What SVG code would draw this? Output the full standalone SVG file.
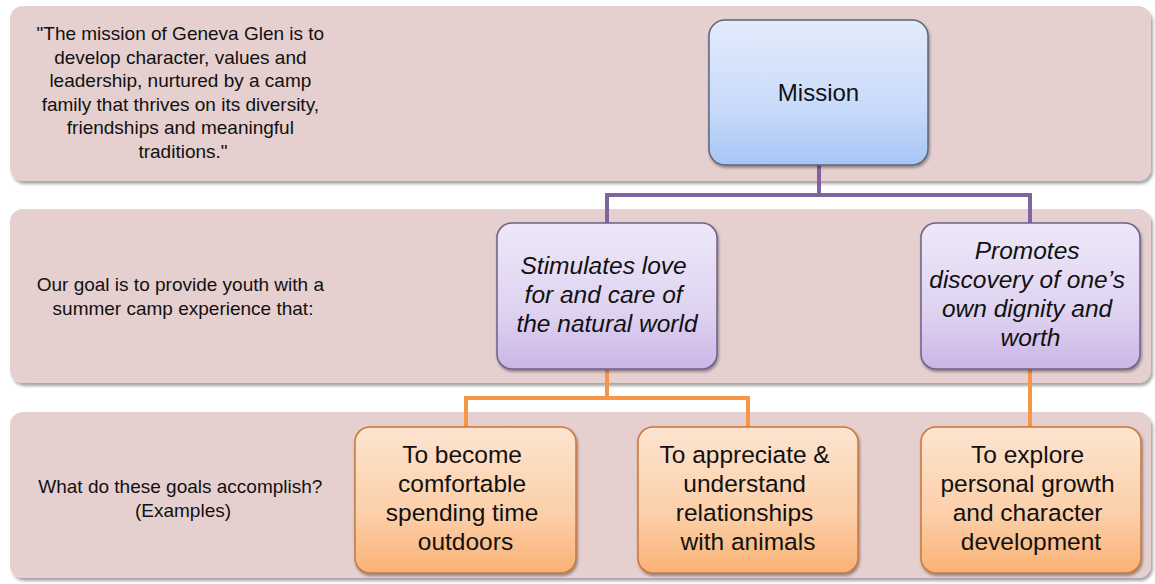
<svg xmlns="http://www.w3.org/2000/svg" width="1155" height="584" viewBox="0 0 1155 584">
  <defs>
    <filter id="bandShadow" x="-5%" y="-10%" width="110%" height="125%">
      <feDropShadow dx="2" dy="3" stdDeviation="1.6" flood-color="#000000" flood-opacity="0.35"/>
    </filter>
    <filter id="boxShadow" x="-10%" y="-10%" width="125%" height="125%">
      <feDropShadow dx="1" dy="2" stdDeviation="1.5" flood-color="#000000" flood-opacity="0.4"/>
    </filter>
    <linearGradient id="gBlue" x1="0" y1="0" x2="0" y2="1">
      <stop offset="0" stop-color="#E2EBFB"/>
      <stop offset="0.6" stop-color="#C9DBFA"/>
      <stop offset="1" stop-color="#A6C6F5"/>
    </linearGradient>
    <linearGradient id="gPurple" x1="0" y1="0" x2="0" y2="1">
      <stop offset="0" stop-color="#EEE8F8"/>
      <stop offset="0.6" stop-color="#DFD3F1"/>
      <stop offset="1" stop-color="#CBB6E6"/>
    </linearGradient>
    <linearGradient id="gOrange" x1="0" y1="0" x2="0" y2="1">
      <stop offset="0" stop-color="#FDE4D0"/>
      <stop offset="0.6" stop-color="#FCCFA8"/>
      <stop offset="1" stop-color="#F9B274"/>
    </linearGradient>
  </defs>
  <style>
    .band { fill: #E6CFCF; filter: url(#bandShadow); }
    .blue { fill: url(#gBlue); stroke: #56687F; stroke-width: 1.5; filter: url(#boxShadow); }
    .purple { fill: url(#gPurple); stroke: #6F5F8A; stroke-width: 1.5; filter: url(#boxShadow); }
    .orange { fill: url(#gOrange); stroke: #C9773A; stroke-width: 1.5; filter: url(#boxShadow); }
    .lbl { font-family: "Liberation Sans", Arial, sans-serif; font-size: 19px; fill: #111; text-anchor: middle; }
    .mission { font-family: "Liberation Sans", Arial, sans-serif; font-size: 24px; fill: #111; text-anchor: middle; }
    .ital { font-family: "Liberation Sans", Arial, sans-serif; font-size: 24.5px; font-style: italic; fill: #111; text-anchor: middle; }
    .ot { font-family: "Liberation Sans", Arial, sans-serif; font-size: 24.5px; fill: #111; text-anchor: middle; }
    .cp { fill: none; stroke: #8064A2; stroke-width: 4; }
    .co { fill: none; stroke: #F79646; stroke-width: 4; }
  </style>

  <g id="bands">
    <rect id="band-mission" class="band" x="10" y="6" width="1141" height="175" rx="13"/>
    <rect id="band-goals" class="band" x="10" y="209" width="1141" height="174" rx="13"/>
    <rect id="band-examples" class="band" x="10" y="412" width="1141" height="166" rx="13"/>
  </g>

  <g id="band-labels">
    <text class="lbl">
      <tspan x="183" y="40">"The mission of Geneva Glen is to</tspan>
      <tspan x="183" y="63.5">develop character, values and</tspan>
      <tspan x="183" y="87">leadership, nurtured by a camp</tspan>
      <tspan x="183" y="110.5">family that thrives on its diversity,</tspan>
      <tspan x="183" y="134">friendships and meaningful</tspan>
      <tspan x="183" y="157.5">traditions."</tspan>
    </text>
    <text class="lbl">
      <tspan x="183" y="291">Our goal is to provide youth with a</tspan>
      <tspan x="183" y="315">summer camp experience that:</tspan>
    </text>
    <text class="lbl">
      <tspan x="183" y="493">What do these goals accomplish?</tspan>
      <tspan x="183" y="517">(Examples)</tspan>
    </text>
  </g>

  <g id="connectors">
    <path class="cp" d="M819,165 V195"/>
    <path class="cp" d="M607,223 V195 H1030 V223"/>
    <path class="co" d="M607,369 V398"/>
    <path class="co" d="M466,427 V398 H748 V427"/>
    <path class="co" d="M1030,369 V427"/>
  </g>

  <g id="node-mission">
    <rect class="blue" x="709" y="20" width="219" height="145" rx="16"/>
    <text class="mission" x="818.5" y="101">Mission</text>
  </g>

  <g id="node-stimulates">
    <rect class="purple" x="497" y="223" width="220" height="146" rx="15"/>
    <text class="ital">
      <tspan x="607" y="274">Stimulates love</tspan>
      <tspan x="607" y="303">for and care of</tspan>
      <tspan x="607" y="332">the natural world</tspan>
    </text>
  </g>

  <g id="node-promotes">
    <rect class="purple" x="921" y="223" width="219" height="146" rx="15"/>
    <text class="ital">
      <tspan x="1030.5" y="259">Promotes</tspan>
      <tspan x="1030.5" y="288">discovery of one’s</tspan>
      <tspan x="1030.5" y="317">own dignity and</tspan>
      <tspan x="1030.5" y="346">worth</tspan>
    </text>
  </g>

  <g id="node-outdoors">
    <rect class="orange" x="355" y="427" width="221" height="146" rx="15"/>
    <text class="ot">
      <tspan x="465.5" y="463">To become</tspan>
      <tspan x="465.5" y="492">comfortable</tspan>
      <tspan x="465.5" y="521">spending time</tspan>
      <tspan x="465.5" y="550">outdoors</tspan>
    </text>
  </g>

  <g id="node-animals">
    <rect class="orange" x="638" y="427" width="220" height="146" rx="15"/>
    <text class="ot">
      <tspan x="748" y="463">To appreciate &amp;</tspan>
      <tspan x="748" y="492">understand</tspan>
      <tspan x="748" y="521">relationships</tspan>
      <tspan x="748" y="550">with animals</tspan>
    </text>
  </g>

  <g id="node-growth">
    <rect class="orange" x="921" y="427" width="220" height="146" rx="15"/>
    <text class="ot">
      <tspan x="1031" y="463">To explore</tspan>
      <tspan x="1031" y="492">personal growth</tspan>
      <tspan x="1031" y="521">and character</tspan>
      <tspan x="1031" y="550">development</tspan>
    </text>
  </g>
</svg>
